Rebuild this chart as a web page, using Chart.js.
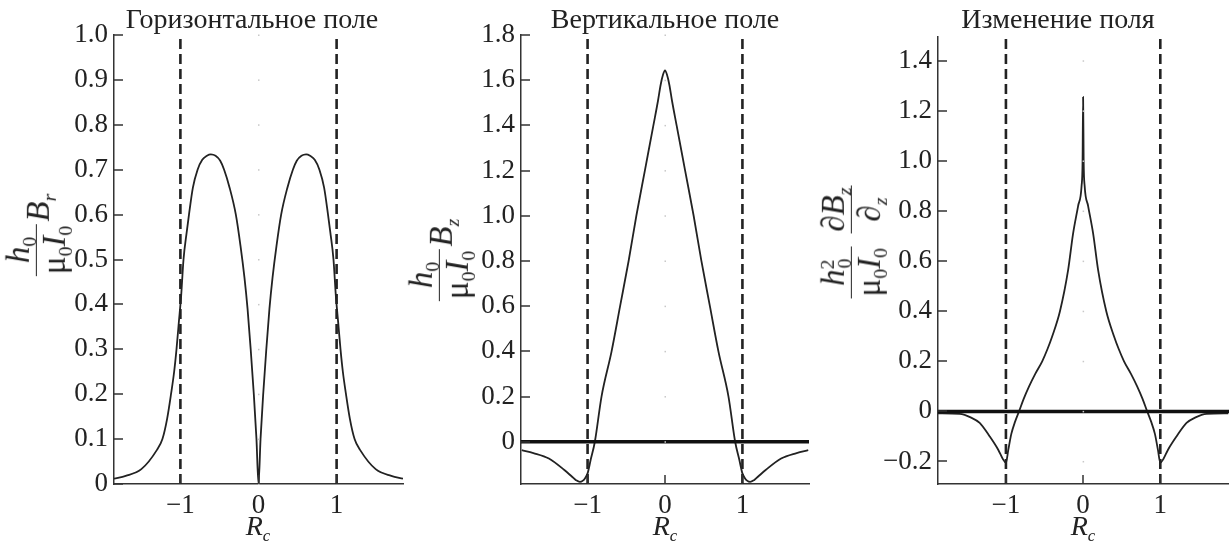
<!DOCTYPE html>
<html>
<head>
<meta charset="utf-8">
<script src="https://cdn.jsdelivr.net/npm/chart.js@4.4.1/dist/chart.umd.min.js"></script>
<style>
  body { margin: 0; background: #fff; }
  #wrap { position: relative; width: 1229px; height: 547px; overflow: hidden; font-family: "Liberation Serif", "Times New Roman", serif; color: #222; }
  .panel { position: absolute; top: 0; }
  .ylab { position: absolute; transform: translate(-50%, -50%) rotate(-90deg); white-space: nowrap; font-size: 33px; line-height: 1; }
  .frac { display: inline-flex; flex-direction: column; vertical-align: middle; text-align: center; margin: 0 2px; }
  .frac > span { line-height: 1.05; padding: 0 2px; }
  .frac .num { border-bottom: 1.6px solid #222; }
  .ylab .low { vertical-align: -0.15em; }
  .ylab sub, .xlab sub { font-size: 0.6em; vertical-align: -0.35em; line-height: 0; }
  .ylab sup { font-size: 0.6em; vertical-align: 0.5em; line-height: 0; }
  .xlab { position: absolute; transform: translateX(-50%); font-size: 28px; font-style: italic; white-space: nowrap; }
</style>
</head>
<body>
<div id="wrap">
  <canvas id="c1" class="panel" width="410" height="547" style="left:0px"></canvas>
  <canvas id="c2" class="panel" width="410" height="547" style="left:410px"></canvas>
  <canvas id="c3" class="panel" width="409" height="547" style="left:820px"></canvas>

  <div class="ylab" style="left:36px;top:236px">
    <span class="frac"><span class="num"><i>h</i><sub>0</sub></span><span>μ<sub>0</sub><i>I</i><sub>0</sub></span></span><span class="low"><i>B</i><sub><i>r</i></sub></span>
  </div>
  <div class="ylab" style="left:439px;top:261px">
    <span class="frac"><span class="num"><i>h</i><sub>0</sub></span><span>μ<sub>0</sub><i>I</i><sub>0</sub></span></span><span class="low"><i>B</i><sub><i>z</i></sub></span>
  </div>
  <div class="ylab" style="left:851px;top:242px">
    <span class="frac"><span class="num"><i>h</i><sup>2</sup><sub style="margin-left:-0.45em">0</sub></span><span>μ<sub>0</sub><i>I</i><sub>0</sub></span></span>
    <span class="frac"><span class="num">∂<i>B</i><sub><i>z</i></sub></span><span>∂<sub><i>z</i></sub></span></span>
  </div>

  <div class="xlab" style="left:258px;top:510px">R<sub>c</sub></div>
  <div class="xlab" style="left:665px;top:510px">R<sub>c</sub></div>
  <div class="xlab" style="left:1083px;top:510px">R<sub>c</sub></div>
</div>

<script>
// tick positions
const xTicks = [-1, 0, 1];
const yTicks1 = [0, 0.1, 0.2, 0.3, 0.4, 0.5, 0.6, 0.7, 0.8, 0.9, 1.0];
const yTicks2 = [0, 0.2, 0.4, 0.6, 0.8, 1.0, 1.2, 1.4, 1.6, 1.8];
const yTicks3 = [-0.2, 0, 0.2, 0.4, 0.6, 0.8, 1.0, 1.2, 1.4];

const titles = ['Горизонтальное поле', 'Вертикальное поле', 'Изменение поля'];

// coil edges (dashed lines)
const edgeX = [-1, 1];

// horizontal field Br
const brX = [-1.85, -1.7, -1.5, -1.3, -1.23, -1.17, -1.12, -1.08, -1.05, -1.02, -0.99, -0.96, -0.92, -0.89, -0.84, -0.78, -0.72, -0.66, -0.61, -0.55, -0.49, -0.44, -0.37, -0.29, -0.23, -0.18, -0.14, -0.10, -0.06, -0.026, 0,
             0.026, 0.06, 0.10, 0.14, 0.18, 0.23, 0.29, 0.37, 0.44, 0.49, 0.55, 0.61, 0.66, 0.72, 0.78, 0.84, 0.89, 0.92, 0.96, 0.99, 1.02, 1.05, 1.08, 1.12, 1.17, 1.23, 1.3, 1.5, 1.7, 1.85];
const brY = [0.012, 0.018, 0.033, 0.076, 0.1, 0.145, 0.2, 0.25, 0.3, 0.36, 0.42, 0.5, 0.56, 0.6, 0.66, 0.7, 0.722, 0.731, 0.734, 0.731, 0.72, 0.70, 0.66, 0.6, 0.53, 0.46, 0.39, 0.3, 0.2, 0.1, 0,
             0.1, 0.2, 0.3, 0.39, 0.46, 0.53, 0.6, 0.66, 0.70, 0.72, 0.731, 0.734, 0.731, 0.722, 0.7, 0.66, 0.6, 0.56, 0.5, 0.42, 0.36, 0.3, 0.25, 0.2, 0.145, 0.1, 0.076, 0.033, 0.018, 0.012];

// vertical field Bz
const bzX = [-1.85, -1.7, -1.5, -1.3, -1.2, -1.15, -1.1, -1.06, -1.03, -1.0, -0.96, -0.906, -0.82, -0.69, -0.58, -0.47, -0.37, -0.26, -0.15, -0.09, -0.056, -0.025, 0,
             0.025, 0.056, 0.09, 0.15, 0.26, 0.37, 0.47, 0.58, 0.69, 0.82, 0.906, 0.96, 1.0, 1.03, 1.06, 1.1, 1.15, 1.2, 1.3, 1.5, 1.7, 1.85];
const bzY = [-0.037, -0.05, -0.074, -0.125, -0.155, -0.17, -0.178, -0.172, -0.16, -0.14, -0.08, 0, 0.2, 0.4, 0.6, 0.8, 1.0, 1.2, 1.4, 1.51, 1.58, 1.625, 1.643,
             1.625, 1.58, 1.51, 1.4, 1.2, 1.0, 0.8, 0.6, 0.4, 0.2, 0, -0.08, -0.14, -0.16, -0.172, -0.178, -0.17, -0.155, -0.125, -0.074, -0.05, -0.037];

// field gradient dBz/dz
const dbX = [-1.88, -1.6, -1.45, -1.34, -1.21, -1.1, -1.04, -1.0, -0.97, -0.93, -0.88, -0.83, -0.77, -0.70, -0.62, -0.53, -0.46, -0.40, -0.30, -0.194, -0.13, -0.065, -0.02, -0.007, 0,
             0.007, 0.02, 0.065, 0.13, 0.194, 0.30, 0.40, 0.46, 0.53, 0.62, 0.70, 0.77, 0.83, 0.88, 0.93, 0.97, 1.0, 1.04, 1.1, 1.21, 1.34, 1.45, 1.6, 1.88];
const dbY = [-0.008, -0.01, -0.025, -0.046, -0.1, -0.153, -0.19, -0.205, -0.155, -0.09, -0.04, 0, 0.05, 0.1, 0.15, 0.2, 0.25, 0.3, 0.4, 0.565, 0.71, 0.82, 0.9, 1.0, 1.255,
             1.0, 0.9, 0.82, 0.71, 0.565, 0.4, 0.3, 0.25, 0.2, 0.15, 0.1, 0.05, 0, -0.04, -0.09, -0.155, -0.205, -0.19, -0.153, -0.1, -0.046, -0.025, -0.01, -0.008];

const FONT = '"Liberation Serif", "Times New Roman", serif';
const INK = '#222';

function pts(xs, ys) { return xs.map((x, i) => ({ x: x, y: ys[i] })); }

function fmtY(v) {
  if (Math.abs(v) < 1e-9) return '0';
  return (v < 0 ? '−' : '') + Math.abs(v).toFixed(1);
}
function fmtX(v) {
  return (v < 0 ? '−' : '') + Math.abs(v);
}

// inward ticks, faint centre dots and the panel title
const decor = {
  id: 'decor',
  afterDatasetsDraw(chart, args, opts) {
    const { ctx, chartArea: a, scales: { x, y } } = chart;
    ctx.save();
    ctx.fillStyle = '#c8c8c8';
    const x0 = x.getPixelForValue(0);
    y.ticks.forEach(t => ctx.fillRect(x0 - 0.5, y.getPixelForValue(t.value) - 0.5, 1.5, 1.5));
    ctx.strokeStyle = '#333';
    ctx.lineWidth = 1.5;
    ctx.beginPath();
    y.ticks.forEach(t => {
      const p = Math.round(y.getPixelForValue(t.value));
      ctx.moveTo(a.left, p); ctx.lineTo(a.left + 9, p);
    });
    x.ticks.forEach(t => {
      const p = Math.round(x.getPixelForValue(t.value));
      ctx.moveTo(p, a.bottom); ctx.lineTo(p, a.bottom - 9);
    });
    ctx.stroke();
    ctx.fillStyle = INK;
    ctx.font = '28px ' + FONT;
    ctx.textAlign = 'center';
    ctx.textBaseline = 'alphabetic';
    ctx.fillText(opts.text, opts.cx, 28);
    ctx.restore();
  }
};

function makePanel(id, cfg) {
  const datasets = [
    { data: pts(cfg.xs, cfg.ys), borderColor: INK, borderWidth: 1.8, pointRadius: 0, cubicInterpolationMode: 'monotone', order: 1 }
  ];
  edgeX.forEach(ex => datasets.push({
    data: [{ x: ex, y: cfg.yMin }, { x: ex, y: cfg.yMax }],
    borderColor: INK, borderWidth: 2.6, borderDash: [10, 5], pointRadius: 0, order: 2
  }));
  if (cfg.zeroLine) datasets.push({
    data: [{ x: cfg.xMin, y: 0 }, { x: cfg.xMax, y: 0 }],
    borderColor: '#111', borderWidth: 3.5, pointRadius: 0, order: 0
  });

  new Chart(document.getElementById(id), {
    type: 'line',
    data: { datasets: datasets },
    options: {
      responsive: false,
      animation: false,
      events: [],
      layout: { padding: { top: cfg.top, right: cfg.padRight, left: 0, bottom: 0 } },
      plugins: { legend: { display: false }, tooltip: { enabled: false }, decor: { text: cfg.title, cx: cfg.titleX } },
      scales: {
        x: {
          type: 'linear', min: cfg.xMin, max: cfg.xMax,
          afterBuildTicks: s => { s.ticks = xTicks.map(v => ({ value: v })); },
          afterFit: s => { s.height = 63; },
          grid: { display: false, drawTicks: false },
          border: { display: true, color: '#333', width: 1.5 },
          ticks: { callback: fmtX, color: INK, font: { family: FONT, size: 27 }, padding: 6, maxRotation: 0 }
        },
        y: {
          type: 'linear', min: cfg.yMin, max: cfg.yMax,
          afterBuildTicks: s => { s.ticks = cfg.yTicks.map(v => ({ value: v })); },
          afterFit: s => { s.width = cfg.axisW; },
          grid: { display: false, drawTicks: false },
          border: { display: true, color: '#333', width: 1.5 },
          ticks: { callback: fmtY, color: INK, font: { family: FONT, size: 27 }, padding: 6 }
        }
      }
    },
    plugins: [decor]
  });
}

makePanel('c1', { xs: brX, ys: brY, xMin: -1.85, xMax: 1.85, yMin: 0, yMax: 1.0, yTicks: yTicks1,
  axisW: 114, padRight: 7, top: 35, title: titles[0], titleX: 252, zeroLine: false });
makePanel('c2', { xs: bzX, ys: bzY, xMin: -1.86, xMax: 1.86, yMin: -0.187, yMax: 1.8, yTicks: yTicks2,
  axisW: 111, padRight: 11, top: 35, title: titles[1], titleX: 255, zeroLine: true });
makePanel('c3', { xs: dbX, ys: dbY, xMin: -1.88, xMax: 1.89, yMin: -0.29, yMax: 1.495, yTicks: yTicks3,
  axisW: 118, padRight: 0, top: 37, title: titles[2], titleX: 238, zeroLine: true });
</script>
</body>
</html>
